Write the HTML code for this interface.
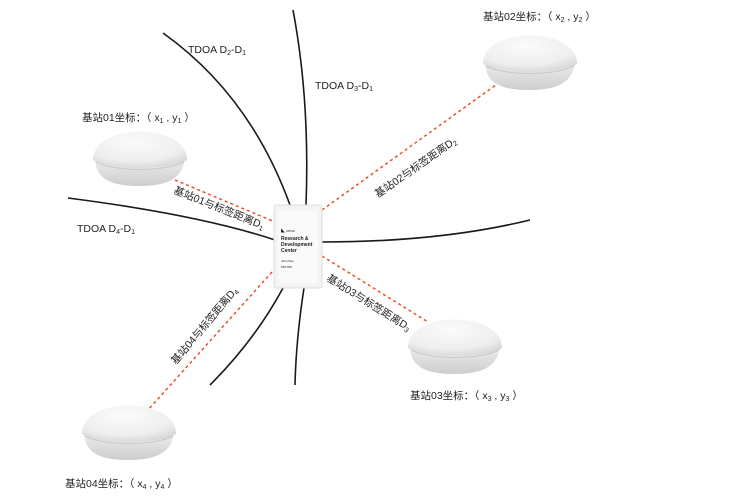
<!DOCTYPE html>
<html><head><meta charset="utf-8"><style>
body{margin:0;background:#fff;}
svg text{font-family:"Liberation Sans","Noto Sans CJK SC",sans-serif;fill:#222;}
</style></head><body>
<svg width="745" height="493" viewBox="0 0 745 493" xmlns="http://www.w3.org/2000/svg">
<defs>
<radialGradient id="dome" cx="0.45" cy="0.3" r="0.75">
<stop offset="0" stop-color="#fbfbfb"/><stop offset="0.7" stop-color="#eeeeee"/><stop offset="1" stop-color="#d6d6d6"/>
</radialGradient>
<linearGradient id="base" x1="0" y1="0" x2="0" y2="1">
<stop offset="0" stop-color="#eeeeee"/><stop offset="1" stop-color="#cdcdcd"/>
</linearGradient>
<g id="st">
<path d="M2,28 C2,50 20,56 46,56 C72,56 90,50 92,28 Z" fill="url(#base)"/>
<path d="M0,30 C0,-8 94,-8 94,30 C80,40 14,40 0,30 Z" fill="url(#dome)"/>
<path d="M3,32 C22,42 72,42 91,32" stroke="#c8c8c8" fill="none"/>
</g>
</defs>
<g fill="none" stroke="#1a1a1a" stroke-width="1.6">
<path d="M163,33 Q250,95 290,205"/>
<path d="M293,10 Q310,100 306,205"/>
<path d="M68,198 Q200,215 275,240"/>
<path d="M322,242 Q440,242 530,220"/>
<path d="M283,288 Q255,340 210,385"/>
<path d="M304,288 Q296,340 295,385"/>
</g>
<g stroke="#e8502a" stroke-width="1.5" stroke-dasharray="3,3" fill="none">
<line x1="175" y1="180" x2="275" y2="222"/>
<line x1="322" y1="210" x2="500" y2="82"/>
<line x1="322" y1="256" x2="428" y2="322"/>
<line x1="272" y1="272" x2="148" y2="410"/>
</g>
<use href="#st" x="93" y="130"/>
<use href="#st" x="483" y="34"/>
<use href="#st" x="408" y="318"/>
<use href="#st" x="82" y="404"/>
<rect x="274" y="205" width="48" height="83" rx="2" fill="#f4f4f4" stroke="#ddd"/>
<rect x="278" y="211" width="40" height="72" fill="#fafafa"/>
<text x="281" y="232" font-size="4" fill="#c33">◣ ceva</text>
<text x="281" y="240" font-size="5" font-weight="bold">Research &amp;</text>
<text x="281" y="246" font-size="5" font-weight="bold">Development</text>
<text x="281" y="252" font-size="5" font-weight="bold">Center</text>
<text x="281" y="262" font-size="3">John Doe</text>
<text x="281" y="268" font-size="3">555-555</text>
<g font-size="10.5">
<text x="188" y="53">TDOA  D<tspan font-size="7" dy="2">2</tspan><tspan dy="-2">-D</tspan><tspan font-size="7" dy="2">1</tspan></text>
<text x="315" y="89">TDOA  D<tspan font-size="7" dy="2">3</tspan><tspan dy="-2">-D</tspan><tspan font-size="7" dy="2">1</tspan></text>
<text x="77" y="232">TDOA  D<tspan font-size="7" dy="2">4</tspan><tspan dy="-2">-D</tspan><tspan font-size="7" dy="2">1</tspan></text>
<text x="82" y="121">基站01坐标：（ x<tspan font-size="7" dy="2">1</tspan><tspan dy="-2"> , y</tspan><tspan font-size="7" dy="2">1</tspan><tspan dy="-2"> ）</tspan></text>
<text x="483" y="20">基站02坐标：（ x<tspan font-size="7" dy="2">2</tspan><tspan dy="-2"> , y</tspan><tspan font-size="7" dy="2">2</tspan><tspan dy="-2"> ）</tspan></text>
<text x="410" y="399">基站03坐标：（ x<tspan font-size="7" dy="2">3</tspan><tspan dy="-2"> , y</tspan><tspan font-size="7" dy="2">3</tspan><tspan dy="-2"> ）</tspan></text>
<text x="65" y="487">基站04坐标：（ x<tspan font-size="7" dy="2">4</tspan><tspan dy="-2"> , y</tspan><tspan font-size="7" dy="2">4</tspan><tspan dy="-2"> ）</tspan></text>
<text transform="translate(173,193) rotate(22)">基站01与标签距离D<tspan font-size="7" dy="2">1</tspan></text>
<text transform="translate(378,198) rotate(-35)">基站02与标签距离D<tspan font-size="7" dy="2">2</tspan></text>
<text transform="translate(326,280) rotate(32)">基站03与标签距离D<tspan font-size="7" dy="2">3</tspan></text>
<text transform="translate(176,365) rotate(-50)">基站04与标签距离D<tspan font-size="7" dy="2">4</tspan></text>
</g>
</svg>
</body></html>
